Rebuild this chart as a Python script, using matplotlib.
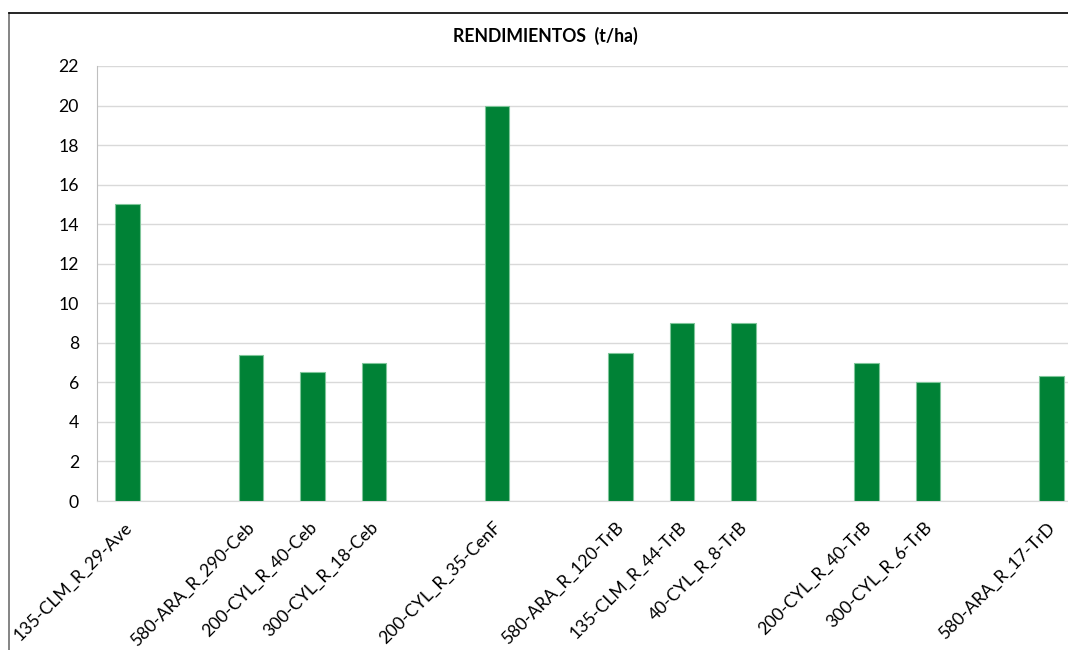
import numpy as np
import matplotlib.pyplot as plt
from matplotlib.lines import Line2D
from matplotlib.transforms import ScaledTranslation

plt.rcParams['font.family'] = ['Lato', 'DejaVu Sans']

# categories (empty strings are blank slots in the original sheet)
labels = ['135-CLM_R_29-Ave', '', '580-ARA_R_290-Ceb', '200-CYL_R_40-Ceb',
          '300-CYL_R_18-Ceb', '', '200-CYL_R_35-CenF', '', '580-ARA_R_120-TrB',
          '135-CLM_R_44-TrB', '40-CYL_R_8-TrB', '', '200-CYL_R_40-TrB',
          '300-CYL_R_6-TrB', '', '580-ARA_R_17-TrD']
rendimiento = [15, np.nan, 7.4, 6.5, 7, np.nan, 20, np.nan, 7.5, 9, 9,
               np.nan, 7, 6, np.nan, 6.3]
yticks = list(range(0, 23, 2))

W, H = 1068, 650
fig = plt.figure(figsize=(W / 100, H / 100), dpi=100)
ax = fig.add_axes([97 / W, 1 - 501 / H, 985 / W, 435 / H])

x = np.arange(len(labels))
ax.bar(x, rendimiento, width=0.4, color='#008236', edgecolor='#7fc69a',
       linewidth=0.8, zorder=3)

ax.set_xlim(-0.5, len(labels) - 0.5)
ax.set_ylim(0, 22)
ax.set_yticks(yticks)
ax.set_xticks(x)
ax.set_xticklabels(labels, rotation=45, ha='right', va='top',
                   rotation_mode='anchor', fontsize=12.7)
ax.tick_params(axis='both', length=0, labelsize=12.7, colors='black')
ax.tick_params(axis='y', pad=13)
ax.tick_params(axis='x', pad=13)
shift = ScaledTranslation(-0.04, 0, fig.dpi_scale_trans)
for lab in ax.get_xticklabels():
    lab.set_transform(lab.get_transform() + shift)
ax.grid(axis='y', color='#d9d9d9', linewidth=1, zorder=0)

for s in ['top', 'right']:
    ax.spines[s].set_visible(False)
ax.spines['left'].set_color('#bfbfbf')
ax.spines['bottom'].set_color('#d9d9d9')

fig.text(545 / W, 1 - 36 / H, 'RENDIMIENTOS  (t/ha)', ha='center',
         va='center', fontsize=12.7, fontweight='bold')

# outer chart frame (cropped at right and bottom)
fig.add_artist(Line2D([9 / W, 9 / W], [0, 1 - 13 / H], color='#707070',
                      linewidth=1.2, transform=fig.transFigure))
fig.add_artist(Line2D([9 / W, 1], [1 - 13 / H, 1 - 13 / H], color='black',
                      linewidth=1.2, transform=fig.transFigure))

fig.savefig('out.png', dpi=100)
